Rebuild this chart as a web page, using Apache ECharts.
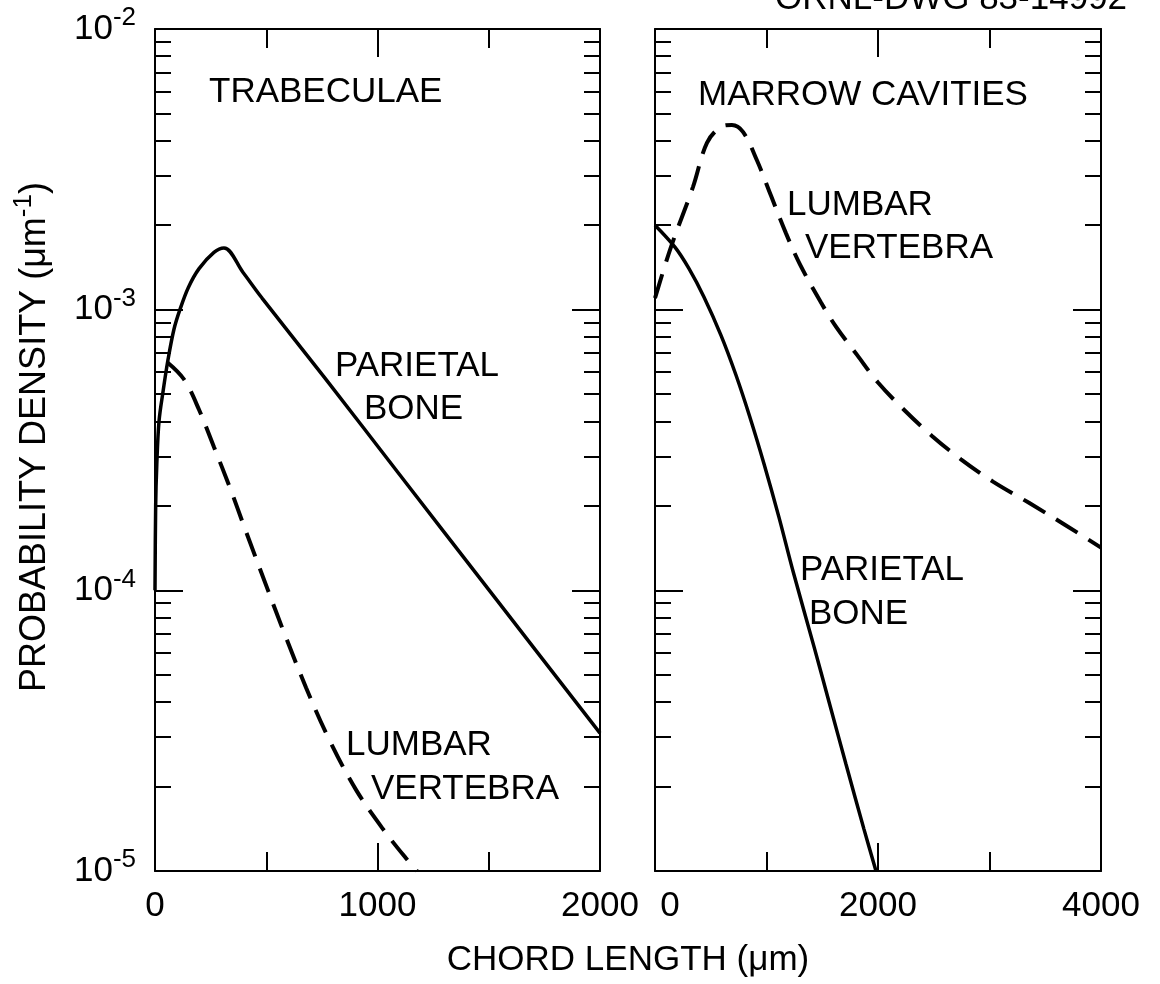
<!DOCTYPE html>
<html>
<head>
<meta charset="utf-8">
<title>Chord length distributions</title>
<script src="https://cdn.jsdelivr.net/npm/echarts@6/dist/echarts.min.js"></script>
<style>
  html, body { margin: 0; padding: 0; background: #fff; }
  #chart { width: 1160px; height: 984px; }
</style>
</head>
<body>
<div id="chart"></div>
<script>
// chord length (um) vs probability density (um^-1)
const trabParietal = [
  [0, 1.0e-4], [3, 2.0e-4], [8, 2.8e-4], [18, 4.0e-4], [36, 5.1e-4], [58, 6.6e-4],
  [85, 8.5e-4], [112, 1.0e-3], [150, 1.2e-3], [198, 1.4e-3], [265, 1.6e-3], [310, 1.66e-3],
  [395, 1.36e-3], [481, 1.1e-3], [764, 5.7e-4], [1092, 2.63e-4], [1533, 9.3e-5], [2000, 3.1e-5]
];
const trabLumbar = [
  [55, 6.5e-4], [130, 5.65e-4], [198, 4.4e-4], [265, 3.24e-4], [337, 2.32e-4], [404, 1.66e-4],
  [508, 1.0e-4], [575, 7.24e-5], [679, 4.5e-5], [782, 2.95e-5], [903, 1.95e-5], [1025, 1.41e-5],
  [1128, 1.11e-5], [1178, 1.0e-5]
];
const marrowParietal = [
  [0, 2.0e-3], [179, 1.67e-3], [305, 1.4e-3], [439, 1.11e-3], [592, 8.1e-4], [726, 5.85e-4],
  [852, 4.13e-4], [978, 2.82e-4], [1112, 1.82e-4], [1238, 1.17e-4], [1426, 6.3e-5],
  [1561, 4.0e-5], [1713, 2.4e-5], [1874, 1.41e-5], [1982, 1.0e-5]
];
const marrowLumbar = [
  [0, 1.1e-3], [143, 1.67e-3], [341, 2.74e-3], [466, 3.93e-3], [592, 4.48e-3], [690, 4.55e-3],
  [789, 4.3e-3], [915, 3.4e-3], [1040, 2.55e-3], [1175, 1.87e-3], [1300, 1.45e-3], [1489, 1.06e-3],
  [1623, 8.7e-4], [1812, 6.9e-4], [2000, 5.5e-4], [2233, 4.4e-4], [2484, 3.55e-4], [2744, 2.93e-4],
  [3031, 2.44e-4], [3354, 2.05e-4], [3668, 1.72e-4], [4000, 1.42e-4]
];

// axes
const yMin = 1e-5, yMax = 1e-2;
const decadeStarts = [-5, -4, -3];
const minorMultipliers = [2, 3, 4, 5, 6, 7, 8, 9];
const xMaxes = [2000, 4000];
const xMajorSteps = [1000, 2000];

const panelTitles = ['TRABECULAE', 'MARROW CAVITIES'];
const xTitle = 'CHORD LENGTH (μm)';
const docNumber = 'ORNL-DWG 83-14992';

const FONT = '"Liberation Sans", Arial, sans-serif';
const FS = 35;
const grids = [
  { left: 155, top: 29, width: 445, height: 842 },
  { left: 655, top: 29, width: 446, height: 842 }
];

const minorLogTicks = [];
decadeStarts.forEach(d => minorMultipliers.forEach(m => minorLogTicks.push(d + Math.log10(m))));

const black = '#000';

function xAxes(g) {
  const base = {
    gridIndex: g,
    type: 'value',
    min: 0,
    max: xMaxes[g],
    interval: xMajorSteps[g],
    axisLine: { show: true, onZero: false, lineStyle: { color: black, width: 2 } },
    axisTick: { show: true, inside: true, length: 28, lineStyle: { color: black, width: 2 } },
    minorTick: { show: true, splitNumber: 2, length: 19, lineStyle: { color: black, width: 2 } },
    splitLine: { show: false },
    minorSplitLine: { show: false }
  };
  const bottom = Object.assign({}, base, {
    position: 'bottom',
    axisLabel: {
      show: true,
      margin: 18,
      color: black,
      fontSize: FS,
      fontFamily: FONT,
      formatter: function (v) {
        if (g === 1 && v === 0) return '{z|0}';
        return String(v);
      },
      rich: { z: { fontSize: FS, fontFamily: FONT, color: black, padding: [0, 0, 0, 30] } }
    }
  });
  const top = Object.assign({}, base, { position: 'top', axisLabel: { show: false } });
  return [bottom, top];
}

function yAxes(g) {
  const logBase = {
    gridIndex: g,
    type: 'log',
    logBase: 10,
    min: yMin,
    max: yMax,
    axisLine: { show: true, onZero: false, lineStyle: { color: black, width: 2 } },
    axisTick: { show: true, inside: true, length: 28, lineStyle: { color: black, width: 2 } },
    splitLine: { show: false },
    axisLabel: { show: false }
  };
  const left = Object.assign({}, logBase, { position: 'left' });
  if (g === 0) {
    left.axisLabel = {
      show: true,
      margin: 19,
      formatter: function (v) {
        const e = Math.round(Math.log10(v));
        return '{b|10}{s|' + e + '}';
      },
      rich: {
        b: { fontSize: FS, fontFamily: FONT, color: black },
        s: { fontSize: 26, fontFamily: FONT, color: black, padding: [0, 0, 22, 0] }
      }
    };
  }
  const right = Object.assign({}, logBase, { position: 'right' });
  const minorBase = {
    gridIndex: g,
    type: 'value',
    min: -5,
    max: -2,
    axisLine: { show: false, onZero: false },
    axisTick: { show: true, inside: true, length: 16, customValues: minorLogTicks, lineStyle: { color: black, width: 2 } },
    axisLabel: { show: false },
    splitLine: { show: false }
  };
  return [left, right,
    Object.assign({}, minorBase, { position: 'left' }),
    Object.assign({}, minorBase, { position: 'right' })];
}

function curve(data, xIdx, yIdx, dashed) {
  return {
    type: 'line',
    xAxisIndex: xIdx,
    yAxisIndex: yIdx,
    data: data,
    symbol: 'none',
    showSymbol: false,
    smooth: 0.35,
    z: 3,
    lineStyle: dashed
      ? { color: black, width: 4, type: [25, 13] }
      : { color: black, width: 3.5, type: 'solid' }
  };
}

function label(text, x, y, extra) {
  return Object.assign({
    type: 'text',
    x: x,
    y: y,
    silent: true,
    style: {
      text: text,
      fill: black,
      font: FS + 'px ' + FONT,
      textAlign: 'left', align: 'left',
      textVerticalAlign: 'middle', verticalAlign: 'middle'
    }
  }, extra || {});
}

const chart = echarts.init(document.getElementById('chart'));
chart.setOption({
  animation: false,
  backgroundColor: '#fff',
  grid: grids,
  xAxis: xAxes(0).concat(xAxes(1)),
  yAxis: yAxes(0).concat(yAxes(1)),
  series: [
    curve(trabParietal, 0, 0, false),
    curve(trabLumbar, 0, 0, true),
    curve(marrowParietal, 2, 4, false),
    curve(marrowLumbar, 2, 4, true)
  ],
  graphic: [
    label(panelTitles[0], 209, 92),
    label(panelTitles[1], 698, 95),
    label('PARIETAL', 335, 366),
    label('BONE', 364, 409),
    label('LUMBAR', 346, 745),
    label('VERTEBRA', 371, 789),
    label('LUMBAR', 787, 205),
    label('VERTEBRA', 805, 248),
    label('PARIETAL', 800, 570),
    label('BONE', 809, 614),
    label(docNumber, 775, -1),
    {
      type: 'text',
      x: 628,
      y: 960,
      silent: true,
      style: {
        text: xTitle, fill: black, font: FS + 'px ' + FONT,
        textAlign: 'center', align: 'center',
        textVerticalAlign: 'middle', verticalAlign: 'middle'
      }
    },
    {
      type: 'text',
      x: 35,
      y: 437,
      rotation: Math.PI / 2,
      silent: true,
      style: {
        text: '{n|PROBABILITY DENSITY (μm}{s|-1}{n|)}',
        fill: black,
        font: '36px ' + FONT,
        textAlign: 'center', align: 'center',
        textVerticalAlign: 'middle', verticalAlign: 'middle',
        rich: {
          n: { fontSize: 36, fontFamily: FONT, fill: black, color: black },
          s: { fontSize: 26, fontFamily: FONT, fill: black, color: black, padding: [0, 0, 22, 0] }
        }
      }
    }
  ]
});
</script>
</body>
</html>
